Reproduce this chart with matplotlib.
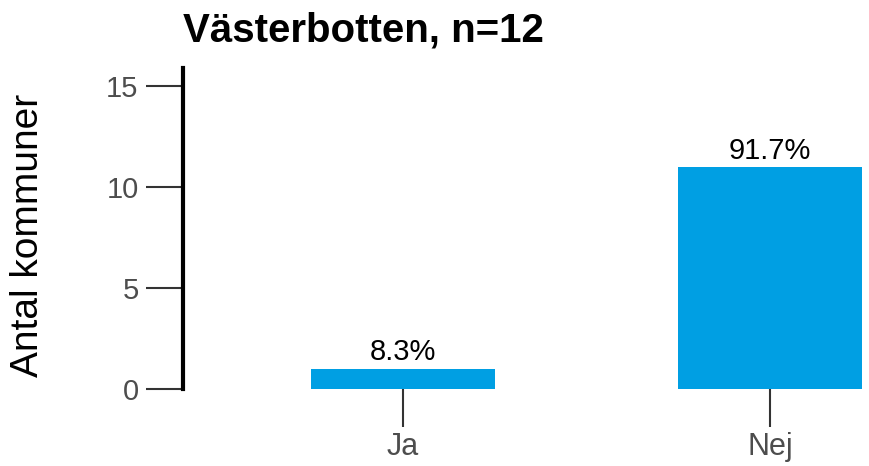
import matplotlib
matplotlib.use("Agg")
import matplotlib.pyplot as plt

categories = ["Ja", "Nej"]
values = [1, 11]
labels = ["8.3%", "91.7%"]
title = "Västerbotten, n=12"
ylabel = "Antal kommuner"
yticks = [0, 5, 10, 15]

plt.rcParams['font.family'] = ['Liberation Sans', 'DejaVu Sans']

fig = plt.figure(figsize=(8.69, 4.66), dpi=100)
ax = fig.add_axes([183/869, 1-389/466, (869-183)/869, (389-68)/466])
x = list(range(len(categories)))
bars = ax.bar(x, values, width=0.5, color="#009FE3")
for xi, v, lab in zip(x, values, labels):
    ax.text(xi, v + 0.12, lab, ha="center", va="bottom", fontsize=21, color="black")

ax.set_xlim(-0.6, 1.27)
ax.set_ylim(0, 15.9)
ax.set_xticks(x)
ax.set_xticklabels(categories)
ax.set_yticks(yticks)
for s in ["top", "right", "bottom"]:
    ax.spines[s].set_visible(False)
ax.spines["left"].set_linewidth(3)
ax.spines["left"].set_color("black")
ax.tick_params(axis="both", length=27, width=1.5, color="#333333", labelcolor="#4d4d4d", labelsize=21, pad=5)
ax.tick_params(axis="x", labelsize=22, pad=4)
ax.set_ylabel(ylabel, fontsize=28, color="black")
ax.yaxis.set_label_coords((46-183)/686, (389-235)/321)
fig.text(183/869, 1-30/466, title, fontsize=29, fontweight="bold", ha="left", va="center")
fig.savefig("out.png", dpi=100)
